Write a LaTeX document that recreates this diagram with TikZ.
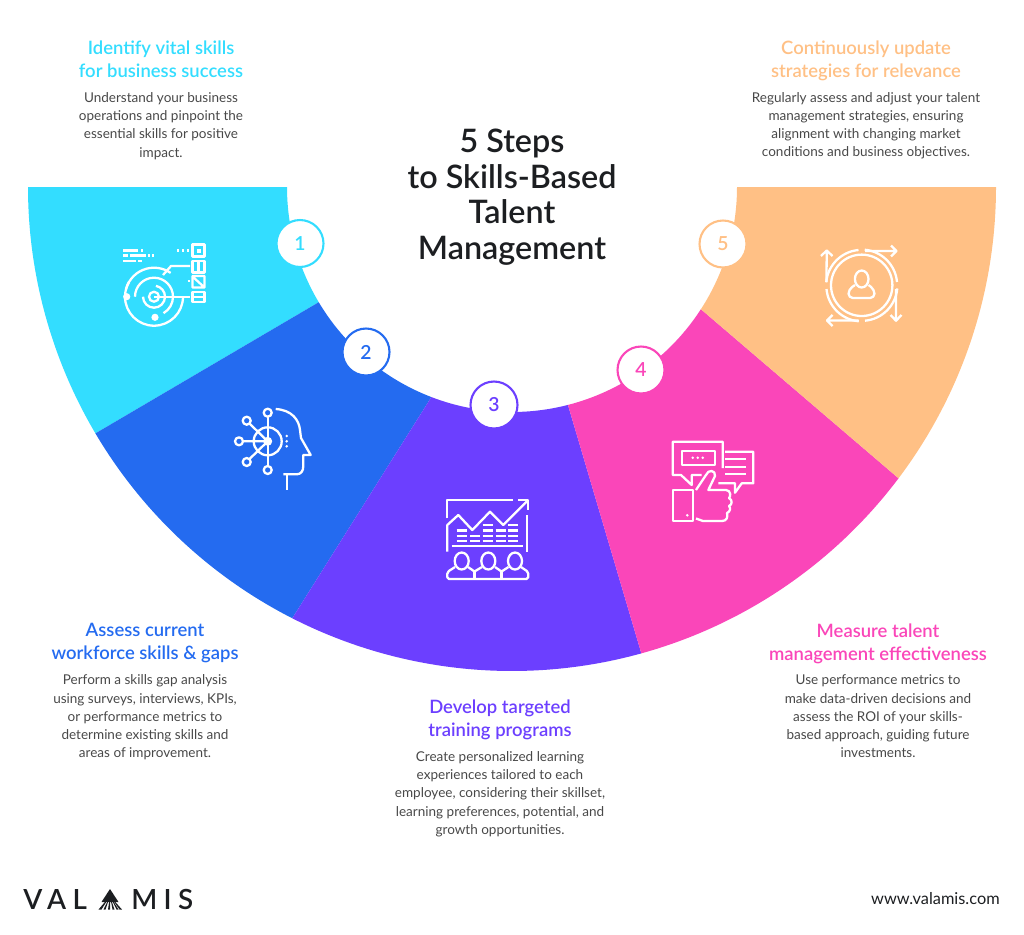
\documentclass[tikz,border=0pt]{standalone}
\usepackage{fontspec}
\usepackage{tikz}
\usepackage{xcolor}
\usetikzlibrary{arrows.meta, positioning, calc}
\setmainfont{Lato}[BoldFont={Lato Semibold}]
\definecolor{stepcyan}{RGB}{51, 221, 255}
\definecolor{stepblue}{RGB}{36, 107, 240}
\definecolor{steppurple}{RGB}{108, 63, 255}
\definecolor{steppink}{RGB}{250, 70, 185}
\definecolor{steporange}{RGB}{255, 192, 133}
\definecolor{titledark}{RGB}{28, 30, 33}
\definecolor{bodygray}{RGB}{72, 72, 72}

\begin{document}
\begin{tikzpicture}[
    x=0.02cm, y=0.02cm,
    num/.style={circle, fill=white, draw=#1, line width=1.2pt, minimum size=0.94cm, inner sep=0pt, text=#1, font=\fontsize{11}{13}\selectfont\bfseries},
    heading/.style={text=#1, align=center, inner sep=0pt, text depth=2.5pt, font=\fontsize{10.5}{13.1}\selectfont\bfseries},
    body/.style={text=bodygray, align=center, inner sep=0pt, below=5.6pt of #1, font=\fontsize{7.7}{10.35}\selectfont},
    logotext/.style={anchor=west, inner sep=0pt, text=titledark, font=\addfontfeature{LetterSpace=23}\fontsize{15.8}{18}\selectfont\bfseries},
    icon/.style={draw=white, line width=1.3pt, line join=round},
    iconfill/.style={fill=white}
]
\useasboundingbox (0,0) rectangle (1024,-934);
\coordinate (ctr) at (512,-187);

% Wedges
\fill[stepcyan] (28,-187) -- (287,-187) arc[start angle=180, end angle=210.8, radius=225]
    -- ($(ctr)+(210.6:484)$) arc[start angle=210.6, end angle=180, radius=484] -- cycle;
\fill[stepblue] ($(ctr)+(210.8:225)$) arc[start angle=210.8, end angle=249, radius=225]
    -- ($(ctr)+(243:484)$) arc[start angle=243, end angle=210.6, radius=484] -- cycle;
\fill[steppurple] ($(ctr)+(249:225)$) arc[start angle=249, end angle=284.4, radius=225]
    -- ($(ctr)+(285.5:484)$) arc[start angle=285.5, end angle=243, radius=484] -- cycle;
\fill[steppink] ($(ctr)+(284.4:225)$) arc[start angle=284.4, end angle=327.1, radius=225]
    -- ($(ctr)+(323:484)$) arc[start angle=323, end angle=285.5, radius=484] -- cycle;
\fill[steporange] ($(ctr)+(327.1:225)$) arc[start angle=327.1, end angle=360, radius=225]
    -- (996,-187) arc[start angle=360, end angle=323, radius=484] -- cycle;

% Numbers
\node[num=stepcyan] (num1) at (300,-243.5) {1};
\node[num=stepblue] (num2) at (366,-352) {2};
\node[num=steppurple] (num3) at (494,-405) {3};
\node[num=steppink] (num4) at (641,-370) {4};
\node[num=steporange] (num5) at (723,-244) {5};

% Title
\node[text=titledark, align=center, inner sep=0pt, font=\fontsize{18.4}{20.2}\selectfont\bfseries] (title) at (512,-197)
    {5 Steps\\to Skills-Based\\Talent\\Management};

% Step 1: Identify
\node[heading=stepcyan] (head1) at (161,-61.5) {Identify vital skills\\for business success};
\node[body=head1] (body1) {Understand your business\\operations and pinpoint the\\essential skills for positive\\impact.};

% Step 2: Assess
\node[heading=stepblue] (head2) at (145,-644) {Assess current\\workforce skills \& gaps};
\node[body=head2] (body2) {Perform a skills gap analysis\\using surveys, interviews, KPIs,\\or performance metrics to\\determine existing skills and\\areas of improvement.};

% Step 3: Develop
\node[heading=steppurple] (head3) at (500,-720.5) {Develop targeted\\training programs};
\node[body=head3] (body3) {Create personalized learning\\experiences tailored to each\\employee, considering their skillset,\\learning preferences, potential, and\\growth opportunities.};

% Step 4: Measure
\node[heading=steppink] (head4) at (878,-644) {Measure talent\\management effectiveness};
\node[body=head4] (body4) {Use performance metrics to\\make data-driven decisions and\\assess the ROI of your skills-\\based approach, guiding future\\investments.};

% Step 5: Continuously
\node[heading=steporange] (head5) at (866,-61) {Continuously update\\strategies for relevance};
\node[body=head5] (body5) {Regularly assess and adjust your talent\\management strategies, ensuring\\alignment with changing market\\conditions and business objectives.};

% Icon 1: target and checklist
\begin{scope}[icon]
    \draw (154,-296.7) circle (5);
    \draw (143,-296.7) arc[start angle=180, end angle=440, radius=11];
    \draw (135,-296.7) arc[start angle=180, end angle=-60, radius=19];
    \draw (126,-289.2) arc[start angle=165, end angle=55, radius=29];
    \draw (183,-296.7) arc[start angle=0, end angle=-210, radius=29];
    \draw (154,-296.7) -- (190,-296.7);
    \draw (163,-275) -- (171,-266) -- (190,-266);
    \fill[iconfill] (126.7,-296.7) circle (3.6) (155,-317.3) circle (3.6);
    \draw (192.5,-244.5) rectangle (204.5,-256.5);
    \draw (192.5,-261) rectangle (204.5,-272.5);
    \draw (198.5,-261) -- (198.5,-272.5);
    \draw (192.5,-276) rectangle (204.5,-287.5) (193,-277) -- (204,-287);
    \draw (192.5,-292) rectangle (204.5,-302) (192.5,-297) -- (204.5,-297);
    \fill[iconfill] (196.5,-248.5) rectangle (200.5,-252.5);
    \draw (123,-250.5) -- (138,-250.5) (141,-250.5) -- (143,-250.5);
    \draw (123,-255.5) -- (128,-255.5) (130,-255.5) -- (146,-255.5) (148,-255.5) -- (150,-255.5) (152,-255.5) -- (154,-255.5);
    \draw (123,-261) -- (136,-261) (138,-261) -- (142,-261);
    \draw (177,-250.5) -- (179,-250.5) (182,-250.5) -- (184,-250.5) (187,-250.5) -- (189,-250.5) (187.5,-281) -- (189.5,-281);
\end{scope}

% Icon 2: head with network
\begin{scope}[icon]
    \draw (267.7,-441.3) circle (14);
    \fill[iconfill] (267.7,-441.3) circle (4.5);
    \draw (267.7,-416.7) -- (267.7,-466);
    \draw (243,-441.3) -- (267.7,-441.3) (249.5,-423.5) -- (267.7,-441.3) (249.5,-459) -- (267.7,-441.3);
    \foreach \px/\py in {267.7/-412.7, 267.7/-470, 239/-441.3, 246.7/-420.7, 246.7/-462}
        \draw (\px,\py) circle (4);
    \foreach \py in {-436,-441.3,-446.3}
        \fill[iconfill] (286.7,\py) circle (1.4);
    \draw (275.7,-409) .. controls (292,-410) and (299,-420) .. (300,-430)
        -- (301,-438) -- (310.7,-455) -- (303.3,-455) -- (303.3,-466)
        .. controls (303.3,-471) and (301,-474.3) .. (296.7,-474.3) -- (283.3,-474.3);
    \draw (286.7,-474.3) -- (286.7,-490);
\end{scope}

% Icon 3: chart and team
\begin{scope}[icon]
    \draw (447.3,-518.3) -- (447.3,-500) -- (512.7,-500);
    \draw (447.3,-551.7) -- (447.3,-525) -- (458.3,-515) -- (472.3,-530) -- (490,-511.7) -- (503.3,-525) -- (527.7,-500.5);
    \draw (518.3,-500) -- (528.3,-500) -- (528.3,-510);
    \draw (527.3,-515) -- (527.3,-551.7);
    \draw (451.7,-546) -- (523.3,-546);
    \foreach \px/\py in {456.7/-530.7, 456.7/-536, 456.7/-541, 470/-536, 470/-541, 482.7/-525, 482.7/-530.7, 482.7/-536, 482.7/-541, 495.7/-530.7, 495.7/-536, 495.7/-541, 508.3/-525, 508.3/-530.7, 508.3/-536, 508.3/-541}
        \draw[line width=1.6pt] (\px,\py) -- ++(10,0);
    \foreach \px in {461.7,488.3,515}
        \draw (\px,-561) ellipse (7 and 8.5);
    \draw[rounded corners=1pt] (455,-567) -- (447.3,-572) -- (447.3,-579) -- (528.3,-579) -- (528.3,-572) -- (521,-567);
    \draw (468,-567) -- (474.5,-571.5) -- (482,-567) (495,-567) -- (501.5,-571.5) -- (508.5,-567);
    \draw (474.5,-571.5) -- (474.5,-579) (501.5,-571.5) -- (501.5,-579);
\end{scope}

% Icon 4: speech bubbles and thumb
\begin{scope}[icon]
    \draw (722.7,-468) -- (722.7,-441.7) -- (672.7,-441.7) -- (672.7,-475) -- (681,-475) -- (691.7,-485) -- (691.7,-475) -- (701.7,-475);
    \draw (681.7,-450.7) rectangle (715,-465);
    \foreach \px in {692.7,697.7,702.7}
        \fill[iconfill] (\px,-457.7) circle (1.4);
    \draw (725,-451.7) -- (753.3,-451.7) -- (753.3,-483.3) -- (741.7,-483.3) -- (735,-492.7) -- (735,-483.3) -- (718.3,-483.3);
    \foreach \py in {-459,-466.7,-474.3}
        \draw (725,\py) -- (746,\py);
    \draw (672.7,-490) rectangle (692.7,-521);
    \fill[iconfill] (687.3,-515.3) circle (1.4);
    \draw (696,-490) -- (706,-475) .. controls (708,-469) and (716,-470) .. (715,-476) -- (708.3,-490)
        -- (726,-490) .. controls (731,-490) and (731,-497) .. (729,-498)
        .. controls (733,-500) and (732,-505) .. (729,-506)
        .. controls (731,-508) and (730,-512) .. (727,-513)
        .. controls (728,-517) and (727,-521) .. (722,-521) -- (703,-521) -- (696,-518.5);
\end{scope}

% Icon 5: person in arrows
\begin{scope}[icon]
    \draw (861.7,-285.3) circle (30.7);
    \draw (858.5,-250) arc[start angle=95, end angle=175, radius=35.5];
    \draw (897,-282) arc[start angle=5, end angle=85, radius=35.5];
    \draw (826.5,-289) arc[start angle=185, end angle=265, radius=35.5];
    \draw (865,-320.7) arc[start angle=275, end angle=355, radius=35.5];
    \draw (826.5,-282) -- (826.7,-250.5) (821,-256) -- (826.7,-250.5) -- (832.5,-256);
    \draw (865,-251) -- (896.5,-251) (891,-245.5) -- (896.5,-251) -- (891,-256.5);
    \draw (896,-289) -- (896,-320.7) (890.5,-315) -- (896,-320.7) -- (901.5,-315);
    \draw (858.5,-320.5) -- (827,-320.5) (832.5,-315) -- (827,-320.5) -- (832.5,-326);
    \draw (861.7,-279) ellipse (6.8 and 8.5);
    \draw[rounded corners=2.5pt] (855,-285) -- (848.5,-289.5) -- (848.5,-298) -- (874.5,-298) -- (874.5,-289.5) -- (868.5,-285);
\end{scope}

% Logo
\node[logotext] (logol) at (23,-899.5) {VAL};
\node[logotext] (logor) at (131,-899.5) {MIS};
\fill[titledark] (110,-889) -- (118.5,-902) -- (101.5,-902) -- cycle;
\foreach \tipx/\tipb in {98.5/101.5, 103.5/105.5, 108/110, 112.5/114.5, 116.5/118.5, 119.5/122}
    \fill[titledark] (\tipx,-909.5) -- (\tipb,-909.5) -- (110,-896) -- cycle;
\node[anchor=east, inner sep=0pt, text=titledark, font=\fontsize{9.3}{11}\selectfont] (web) at (1000,-899) {www.valamis.com};

\end{tikzpicture}
\end{document}
